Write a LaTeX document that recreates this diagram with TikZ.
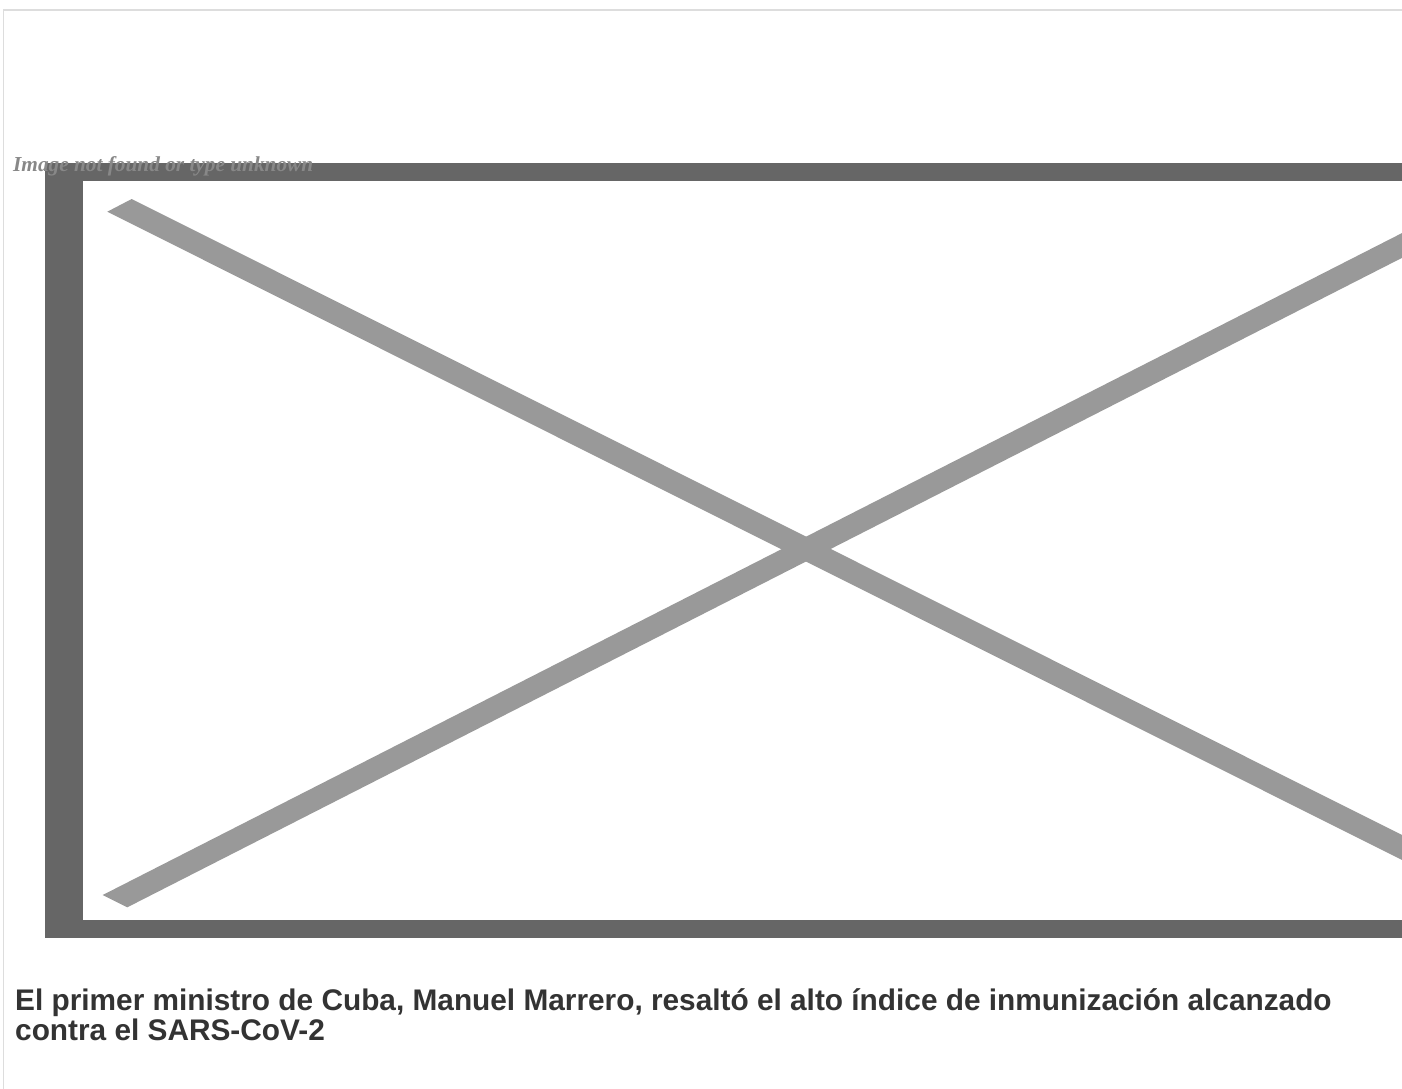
\documentclass[tikz,border=0pt]{standalone}
\usepackage{fontspec}
\setmainfont{Liberation Sans}
\newfontfamily\serifbi{Liberation Serif}
\begin{document}
\begin{tikzpicture}[x=1pt,y=-1pt,
  framecol/.style={fill=framegray},
  crossbar/.style={fill=crossgray},
  pagerule/.style={draw=rulegray,line width=1.6pt},
  missing/.style={font=\serifbi\bfseries\itshape\fontsize{21.3}{25}\selectfont,text=missgray,inner sep=0pt,anchor=base west},
  headline/.style={font=\bfseries\fontsize{29.8}{34}\selectfont,text=titlegray,inner sep=0pt,anchor=base west}]
\definecolor{framegray}{HTML}{666666}
\definecolor{crossgray}{HTML}{999999}
\definecolor{rulegray}{HTML}{DDDDDD}
\definecolor{missgray}{HTML}{888888}
\definecolor{titlegray}{HTML}{333333}
\useasboundingbox (0,0) rectangle (1402,1088);
\fill[white] (0,0) rectangle (1402,1088);
\begin{scope}
\clip (0,0) rectangle (1402,1088);
% page rules
\draw[pagerule] (3.5,1100) -- (3.5,10) -- (1420,10);
% frame
\fill[framecol] (45,163) rectangle (1450,938);
\fill[white] (83,181) rectangle (1450,919.5);
% cross
\fill[crossbar] (131.7,199) -- (1450,859) -- (1450,884) -- (107.3,211.7) -- cycle;
\fill[crossbar] (102.7,895) -- (1450,208.6) -- (1450,233.4) -- (127.3,907.3) -- cycle;
\end{scope}
\node[missing] (miss) at (13,171) {Image not found or type unknown};
\node[headline] (title1) at (15,1010) {El primer ministro de Cuba, Manuel Marrero, resaltó el alto índice de inmunización alcanzado};
\node[headline] (title2) at (15,1040.5) {contra el SARS-CoV-2};
\end{tikzpicture}
\end{document}
